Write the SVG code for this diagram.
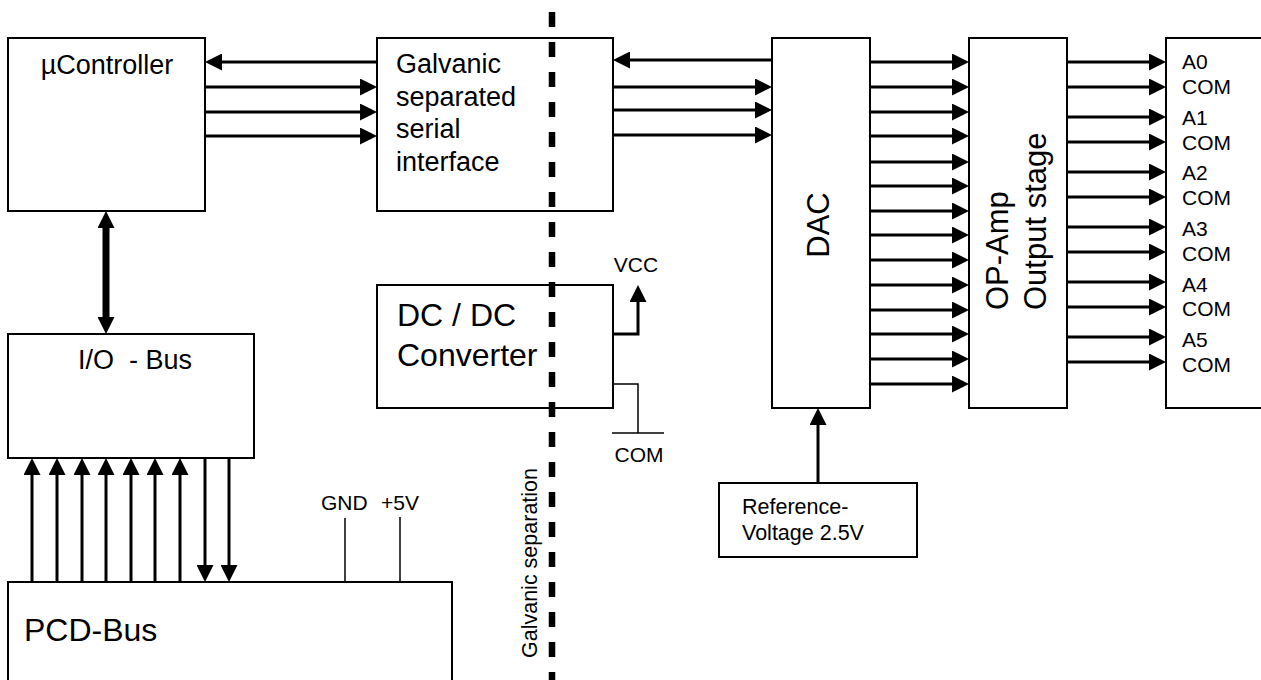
<svg xmlns="http://www.w3.org/2000/svg" width="1261" height="680" viewBox="0 0 1261 680">
<style>
.box{fill:#fff;stroke:#000;stroke-width:2}
text{font-family:"Liberation Sans",Arial,sans-serif;fill:#000}
.t27{font-size:27px}
.t32{font-size:32px}
.t31{font-size:31px}
.t21{font-size:21px}
.w{stroke:#000;stroke-width:3;fill:none}
.thin{stroke:#000;stroke-width:1.5;fill:none}
.arr{marker-end:url(#ah)}
</style>
<defs>
<marker id="ah" markerUnits="userSpaceOnUse" markerWidth="17" markerHeight="17" viewBox="0 0 17 17" refX="2" refY="8.5" orient="auto-start-reverse">
<path d="M0,0 L17,8.5 L0,17 z" fill="#000"/>
</marker>
</defs>
<rect width="1261" height="680" fill="#fff"/>

<g id="ucontroller">
<rect class="box" x="8" y="38" width="197" height="173"/>
<text class="t27" x="107" y="74" text-anchor="middle">µController</text>
</g>
<g id="galvanic-interface">
<rect class="box" x="377" y="38" width="236" height="173"/>
<text class="t27" x="396" y="73">Galvanic</text>
<text class="t27" x="396" y="106">separated</text>
<text class="t27" x="396" y="138">serial</text>
<text class="t27" x="396" y="171">interface</text>
</g>
<g id="dac">
<rect class="box" x="772" y="38" width="98" height="370"/>
<text class="t31" transform="translate(829,225) rotate(-90)" text-anchor="middle">DAC</text>
</g>
<g id="opamp">
<rect class="box" x="969" y="38" width="98" height="370"/>
<text class="t31" transform="translate(1008,310) rotate(-90)">OP-Amp</text>
<text class="t31" transform="translate(1046,310) rotate(-90)">Output stage</text>
</g>
<g id="outputs">
<rect class="box" x="1166" y="38" width="120" height="370"/>
<text class="t21" x="1182" y="69">A0</text>
<text class="t21" x="1182" y="94">COM</text>
<text class="t21" x="1182" y="125">A1</text>
<text class="t21" x="1182" y="150">COM</text>
<text class="t21" x="1182" y="180">A2</text>
<text class="t21" x="1182" y="205">COM</text>
<text class="t21" x="1182" y="236">A3</text>
<text class="t21" x="1182" y="261">COM</text>
<text class="t21" x="1182" y="292">A4</text>
<text class="t21" x="1182" y="316">COM</text>
<text class="t21" x="1182" y="347">A5</text>
<text class="t21" x="1182" y="372">COM</text>
</g>
<g id="io-bus">
<rect class="box" x="8" y="334" width="246" height="124"/>
<text class="t27" x="78" y="369" xml:space="preserve">I/O  - Bus</text>
</g>
<g id="dcdc">
<rect class="box" x="377" y="285" width="236" height="123"/>
<text class="t32" x="397" y="326">DC / DC</text>
<text class="t32" x="397" y="366">Converter</text>
</g>
<g id="reference">
<rect class="box" x="719" y="483" width="198" height="74"/>
<text class="t21" x="742" y="514" style="font-size:21.5px">Reference-</text>
<text class="t21" x="742" y="540" style="font-size:21.5px">Voltage 2.5V</text>
</g>
<g id="pcd-bus">
<rect class="box" x="8" y="582" width="444" height="120"/>
<text class="t32" x="24" y="641">PCD-Bus</text>
</g>

<g id="connectors">
<!-- uC <-> galvanic -->
<line class="w arr" x1="377" y1="62" x2="220" y2="62"/>
<line class="w arr" x1="205" y1="87" x2="362" y2="87"/>
<line class="w arr" x1="205" y1="112" x2="362" y2="112"/>
<line class="w arr" x1="205" y1="136" x2="362" y2="136"/>
<!-- galvanic <-> DAC -->
<line class="w arr" x1="772" y1="60" x2="628" y2="60"/>
<line class="w arr" x1="613" y1="87" x2="757" y2="87"/>
<line class="w arr" x1="613" y1="110" x2="757" y2="110"/>
<line class="w arr" x1="613" y1="135" x2="757" y2="135"/>
<!-- DAC -> OP-Amp -->
<line class="w arr" x1="870" y1="62" x2="954" y2="62"/>
<line class="w arr" x1="870" y1="87" x2="954" y2="87"/>
<line class="w arr" x1="870" y1="112" x2="954" y2="112"/>
<line class="w arr" x1="870" y1="136" x2="954" y2="136"/>
<line class="w arr" x1="870" y1="162" x2="954" y2="162"/>
<line class="w arr" x1="870" y1="186" x2="954" y2="186"/>
<line class="w arr" x1="870" y1="211" x2="954" y2="211"/>
<line class="w arr" x1="870" y1="235" x2="954" y2="235"/>
<line class="w arr" x1="870" y1="260" x2="954" y2="260"/>
<line class="w arr" x1="870" y1="285" x2="954" y2="285"/>
<line class="w arr" x1="870" y1="310" x2="954" y2="310"/>
<line class="w arr" x1="870" y1="334" x2="954" y2="334"/>
<line class="w arr" x1="870" y1="359" x2="954" y2="359"/>
<line class="w arr" x1="870" y1="384" x2="954" y2="384"/>
<!-- OP-Amp -> outputs -->
<line class="w arr" x1="1067" y1="62" x2="1151" y2="62"/>
<line class="w arr" x1="1067" y1="87" x2="1151" y2="87"/>
<line class="w arr" x1="1067" y1="117" x2="1151" y2="117"/>
<line class="w arr" x1="1067" y1="142" x2="1151" y2="142"/>
<line class="w arr" x1="1067" y1="172" x2="1151" y2="172"/>
<line class="w arr" x1="1067" y1="197" x2="1151" y2="197"/>
<line class="w arr" x1="1067" y1="227" x2="1151" y2="227"/>
<line class="w arr" x1="1067" y1="252" x2="1151" y2="252"/>
<line class="w arr" x1="1067" y1="282" x2="1151" y2="282"/>
<line class="w arr" x1="1067" y1="307" x2="1151" y2="307"/>
<line class="w arr" x1="1067" y1="337" x2="1151" y2="337"/>
<line class="w arr" x1="1067" y1="362" x2="1151" y2="362"/>
<!-- uC <-> IO bus -->
<line x1="106" y1="226" x2="106" y2="319" stroke="#000" stroke-width="7" marker-start="url(#ah)" marker-end="url(#ah)"/>
<!-- PCD -> IO -->
<line class="w arr" x1="32" y1="582" x2="32" y2="473"/>
<line class="w arr" x1="57" y1="582" x2="57" y2="473"/>
<line class="w arr" x1="82" y1="582" x2="82" y2="473"/>
<line class="w arr" x1="106" y1="582" x2="106" y2="473"/>
<line class="w arr" x1="131" y1="582" x2="131" y2="473"/>
<line class="w arr" x1="155" y1="582" x2="155" y2="473"/>
<line class="w arr" x1="180" y1="582" x2="180" y2="473"/>
<line class="w arr" x1="205" y1="458" x2="205" y2="567"/>
<line class="w arr" x1="229" y1="458" x2="229" y2="567"/>
<!-- GND / +5V -->
<line class="thin" x1="345" y1="518" x2="345" y2="582"/>
<line class="thin" x1="400" y1="517" x2="400" y2="582"/>
<text class="t21" x="321" y="510">GND</text>
<text class="t21" x="381" y="510">+5V</text>
<!-- reference -> DAC -->
<line class="w arr" x1="818" y1="483" x2="818" y2="423"/>
<!-- VCC -->
<path class="w arr" d="M613,334 H638 V300"/>
<text class="t21" x="636" y="272" text-anchor="middle">VCC</text>
<!-- COM ground -->
<path class="thin" d="M613,384 H638 V433"/>
<line class="thin" x1="612" y1="433" x2="664" y2="433"/>
<text class="t21" x="639" y="462" text-anchor="middle">COM</text>
</g>

<g id="galvanic-separation">
<line x1="552" y1="12" x2="552" y2="680" stroke="#000" stroke-width="6.5" stroke-dasharray="15 15"/>
<text class="t21" transform="translate(537,658) rotate(-90)" style="font-size:21.5px">Galvanic separation</text>
</g>
</svg>
